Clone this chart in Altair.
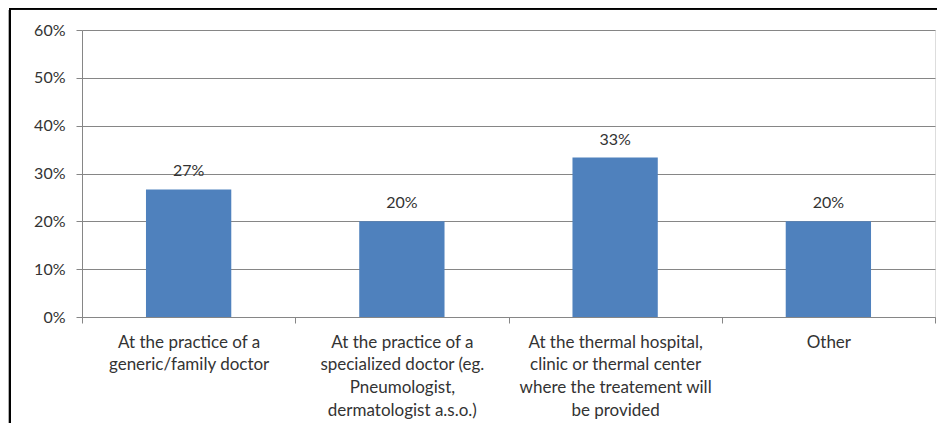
import altair as alt
import pandas as pd

categories = [
    "At the practice of a|generic/family doctor",
    "At the practice of a|specialized doctor (eg.|Pneumologist,|dermatologist a.s.o.)",
    "At the thermal hospital,|clinic or thermal center|where the treatement will|be provided",
    "Other",
]
values = [0.2667, 0.20, 0.3333, 0.20]
labels = ["27%", "20%", "33%", "20%"]

df = pd.DataFrame({"cat": categories, "val": values, "lab": labels})

FONT = "Lato"
TXT = "#333333"
GRID = "#868686"

x_enc = alt.X(
    "cat:N",
    sort=categories,
    title=None,
    scale=alt.Scale(paddingInner=0, paddingOuter=0),
    axis=alt.Axis(
        labelAngle=0,
        labelExpr="split(datum.label, '|')",
        labelFont=FONT,
        labelFontSize=17,
        labelColor=TXT,
        labelLineHeight=22.8,
        labelPadding=11,
        labelBaseline="top",
        tickBand="extent",
        tickSize=6,
        tickColor=GRID,
        domainColor=GRID,
        labelLimit=300,
    ),
)

y_enc = alt.Y(
    "val:Q",
    title=None,
    scale=alt.Scale(domain=[0, 0.6]),
    axis=alt.Axis(
        values=[0, 0.1, 0.2, 0.3, 0.4, 0.5, 0.6],
        format=".0%",
        labelFont=FONT,
        labelFontSize=16,
        labelColor=TXT,
        labelPadding=11,
        tickSize=6,
        tickColor=GRID,
        domainColor=GRID,
        gridColor=GRID,
        grid=True,
    ),
)

bars = alt.Chart(df).mark_bar(color="#4F81BD", width=alt.RelativeBandSize(0.4)).encode(
    x=x_enc, y=y_enc
)

text = alt.Chart(df).mark_text(
    font=FONT, fontSize=16, color=TXT, baseline="alphabetic", dy=-13
).encode(x=alt.X("cat:N", sort=categories), y="val:Q", text="lab:N")

frame_top = alt.Chart(df).mark_rule(color="#000000", strokeWidth=1.5).encode(
    x=alt.value(-73), x2=alt.value(900), y=alt.value(-21.2)
)
frame_left = alt.Chart(df).mark_rule(color="#000000", strokeWidth=1.5).encode(
    x=alt.value(-72), y=alt.value(-22), y2=alt.value(420)
)
frame_shadow = alt.Chart(df).mark_rule(color="#b0b0b0", strokeWidth=1).encode(
    x=alt.value(-73.5), y=alt.value(-20), y2=alt.value(420)
)

chart = (
    alt.layer(bars, text, frame_shadow, frame_top, frame_left)
    .properties(
        width=853,
        height=287,
        autosize=alt.AutoSizeParams(type="none"),
        padding={"left": 74, "top": 22, "right": 2, "bottom": 106},
    )
    .configure_view(stroke=None)
    .configure(background="white")
)

chart.save("out.html", embed_options={"renderer": "svg", "actions": False})
